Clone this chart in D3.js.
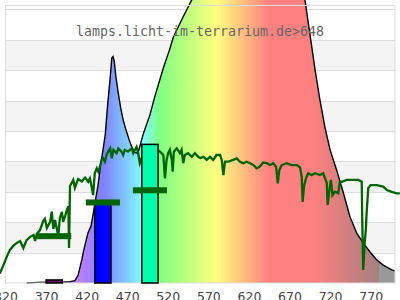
<!DOCTYPE html>
<html>
<head>
<meta charset="utf-8">
<script src="https://cdn.jsdelivr.net/npm/d3@7"></script>
<style>
  body { margin: 0; background: #fff; }
  svg { display: block; }
</style>
</head>
<body>
<svg id="chart"></svg>
<script>
// wavelength ticks (nm)
const waveTicks = [320, 370, 420, 470, 520, 570, 620, 670, 720, 770];

// lamp spectrum [nm, relative value]
const lampSpectrum = [
  [346, 0], [360, 0.02], [375, 0.03], [390, 0.03], [399.5, 0.04], [405.5, 0.08],
  [409.5, 0.26], [414, 0.76], [416, 1.03], [419, 1.36], [421.5, 1.64], [425.5, 1.88],
  [428.5, 2.35], [431, 2.75], [434, 3.2], [437, 3.85], [440, 4.35], [443, 4.9],
  [446, 5.9], [449, 6.75], [451, 7.4], [452.5, 7.45], [454, 7.3], [456, 6.79],
  [459, 6.24], [462, 5.75], [465, 5.36], [468.5, 5.03], [472.5, 4.7], [475.5, 4.48],
  [479.5, 4.3], [481, 4.27], [484, 4.35], [490, 4.92], [498, 5.53], [504, 6.13],
  [514.5, 7.07], [522, 7.66], [527, 8.1], [539, 8.76], [549.5, 9.31], [565, 9.9],
  [585, 10.4], [610, 10.6], [635, 10.5], [660, 10.2], [680, 9.7], [689, 9.31],
  [695, 8.21], [701.5, 7.01], [707.5, 6.02], [713.5, 5.14], [720, 4.38], [728, 3.72],
  [736.5, 2.95], [744.5, 2.18], [753, 1.63], [761, 1.31], [769, 1.03], [777.5, 0.76],
  [785.5, 0.59], [796, 0.43], [800, 0.4]
];

// daylight reference spectrum [nm, relative value]
const sunSpectrum = [
  [313, 0.31], [317, 0.56], [321.5, 0.86], [325.5, 1.09], [329.5, 1.22], [334, 1.32],
  [338, 1.38], [342, 1.15], [346, 1.41], [350, 1.51], [354.5, 1.58], [356.5, 1.38],
  [358.5, 1.61], [362.5, 1.74], [366.5, 2.04], [368.5, 2.11], [371, 1.81], [375, 2.01],
  [377, 2.35], [379, 1.78], [381, 2.07], [385, 1.55], [387, 2.14], [389.5, 2.34],
  [391, 2.01], [393.5, 2.2], [395.5, 2.4], [397.5, 2.53], [398.3, 1.15], [399.5, 3.19],
  [401.5, 3.29], [403.5, 3.39], [405.5, 3.13], [407.5, 3.28], [409.5, 3.42], [414, 3.34],
  [418, 3.47], [422, 3.33], [424, 3.44], [426, 3.19], [428, 2.89], [430, 3.61],
  [432.5, 3.77], [434.5, 3.66], [436.5, 3.85], [438.5, 4.05], [440.5, 4.1], [442.5, 3.99],
  [444.5, 4.21], [446.5, 4.32], [449, 4.43], [451, 4.1], [453, 4.38], [457, 4.27],
  [459, 4.43], [463, 4.32], [465, 4.21], [467, 4.38], [471, 4.32], [475.5, 4.43],
  [477.5, 4.27], [479.5, 4.38], [481.5, 4.48], [483.5, 4.27], [485.5, 3.94], [491.5, 4.38],
  [498, 4.21], [504, 4.31], [507, 4.38], [510.5, 4.32], [514.5, 4.21], [516.5, 3.44],
  [518.5, 4.05], [520.5, 4.27], [522.5, 4.38], [525, 4.05], [526, 3.66], [527.5, 4.32],
  [531, 4.43], [535, 4.27], [537, 4.38], [539, 3.94], [541, 4.21], [545, 4.27],
  [549.5, 4.15], [553.5, 4.27], [557.5, 4.15], [560, 4.11], [564, 4.15], [568, 4.05],
  [572, 4.15], [576, 4.05], [580, 4.21], [584.5, 4.21], [586.5, 4.05], [588.5, 3.55],
  [590.5, 3.99], [594.5, 3.99], [600.5, 4.05], [605, 4.1], [609, 3.99], [613, 3.94],
  [617, 3.99], [621.5, 3.94], [625.5, 3.88], [629.5, 3.77], [633.5, 3.83], [637.5, 3.96],
  [642, 3.94], [646, 3.88], [650, 3.94], [653.5, 3.82], [655.5, 3.28], [657.5, 3.72],
  [660.5, 3.88], [666.5, 3.94], [672.5, 3.88], [679, 3.88], [683, 3.8], [685, 3.5],
  [686.2, 2.67], [687.8, 3.17], [690.3, 3.44], [693, 3.61], [697.3, 3.55], [701.5, 3.61],
  [707.5, 3.55], [711.5, 3.61], [716, 3.28], [717, 2.57], [718.7, 2.95], [721, 3.39],
  [723, 2.89], [726, 3.0], [730, 2.95], [732, 3.33], [734.5, 3.33], [740.5, 3.39],
  [748.5, 3.39], [755, 3.39], [759, 3.33], [759.7, 1.96], [760.9, 0.43], [762.2, 1.19],
  [764, 1.74], [765, 2.29], [767, 3.12], [770, 3.22], [777.5, 3.22], [785.5, 3.17],
  [790, 3.06], [796, 3.0], [802, 2.95], [806, 2.95]
];

// bands: centre wavelength, lamp bar value, daylight mean value
const bandCenters = [380, 440, 498];
const bandLamp = [0.1, 2.62, 4.56];
const bandSun = [1.54, 2.65, 3.05];

const titleText = "lamps.licht-im-terrarium.de>648";

// styles
const bandColors = ["#660066", "#0000ff", "#00ffaa"];
const spectrumStops = [
  [380, "#ff80ff"], [410, "#c080ff"], [440, "#8080ff"], [490, "#80ffff"],
  [510, "#80ff80"], [580, "#ffff80"], [645, "#ff8080"], [700, "#ff8080"],
  [780, "#a68080"], [780, "#999999"], [800, "#999999"]
];
const sunColor = "#006400";

const width = 400;
const height = 300;
const plotLeft = 5.5;
const plotRight = 395;
const plotTop = 5.5;
const plotBottom = 283;
const barWidthNm = 20;
const markerWidthNm = 42;
const markerHeight = 6;

let x = d3.scaleLinear().domain([320, 800]).range([plotLeft, plotRight]);
let y = d3.scaleLinear().domain([0, 9]).range([plotBottom, 9.4]);

let svg = d3.select("#chart").attr("width", width).attr("height", height);

// gradient for the spectrum fill
let grad = svg
  .append("defs")
  .append("linearGradient")
  .attr("id", "spec")
  .attr("gradientUnits", "userSpaceOnUse")
  .attr("x1", x(380))
  .attr("x2", x(800))
  .attr("y1", 0)
  .attr("y2", 0);
grad
  .selectAll("stop")
  .data(spectrumStops)
  .enter()
  .append("stop")
  .attr("offset", d => (x(d[0]) - x(380)) / (x(800) - x(380)))
  .attr("stop-color", d => d[1]);

// stripes
svg
  .append("g")
  .selectAll("rect")
  .data(d3.range(0, 9).filter(i => i % 2 === 1))
  .enter()
  .append("rect")
  .attr("x", plotLeft)
  .attr("width", plotRight - plotLeft)
  .attr("y", d => y(d + 1))
  .attr("height", d => y(d) - y(d + 1))
  .attr("fill", "#f3f3f3");

// grid lines
svg
  .append("g")
  .selectAll("line")
  .data(d3.range(1, 10))
  .enter()
  .append("line")
  .attr("x1", plotLeft)
  .attr("x2", plotRight)
  .attr("y1", d => Math.round(y(d)) + 0.5)
  .attr("y2", d => Math.round(y(d)) + 0.5)
  .attr("stroke", "#dddddd");

// lamp spectrum
svg
  .append("path")
  .datum(lampSpectrum)
  .attr("fill", "url(#spec)")
  .attr(
    "d",
    d3
      .area()
      .x(d => x(d[0]))
      .y0(y(0))
      .y1(d => y(d[1]))
  );
svg
  .append("path")
  .datum(lampSpectrum)
  .attr("fill", "none")
  .attr("stroke", "#000")
  .attr("stroke-width", 1.4)
  .attr(
    "d",
    d3
      .line()
      .x(d => x(d[0]))
      .y(d => y(d[1]))
  );

// frame
svg
  .append("rect")
  .attr("x", plotLeft)
  .attr("y", plotTop)
  .attr("width", plotRight - plotLeft)
  .attr("height", plotBottom - plotTop)
  .attr("fill", "none")
  .attr("stroke", "#dddddd");

// daylight line
svg
  .append("path")
  .datum(sunSpectrum)
  .attr("fill", "none")
  .attr("stroke", sunColor)
  .attr("stroke-width", 2.3)
  .attr(
    "d",
    d3
      .line()
      .x(d => x(d[0]))
      .y(d => y(d[1]))
  );

// band bars
svg
  .append("g")
  .selectAll("rect")
  .data(bandCenters)
  .enter()
  .append("rect")
  .attr("x", d => x(d - barWidthNm / 2))
  .attr("width", d => x(d + barWidthNm / 2) - x(d - barWidthNm / 2))
  .attr("y", (d, i) => y(bandLamp[i]))
  .attr("height", (d, i) => y(0) - y(bandLamp[i]))
  .attr("fill", (d, i) => bandColors[i])
  .attr("stroke", "#000")
  .attr("stroke-width", 1.5);

// daylight band means
svg
  .append("g")
  .selectAll("rect")
  .data(bandCenters)
  .enter()
  .append("rect")
  .attr("x", d => x(d - markerWidthNm / 2))
  .attr("width", d => x(d + markerWidthNm / 2) - x(d - markerWidthNm / 2))
  .attr("y", (d, i) => y(bandSun[i]) - markerHeight / 2)
  .attr("height", markerHeight)
  .attr("fill", sunColor);

// x axis labels
let xAxis = svg
  .append("g")
  .attr("transform", `translate(0,${plotBottom})`)
  .call(
    d3
      .axisBottom(x)
      .tickValues(waveTicks)
      .tickSize(0)
      .tickPadding(9)
      .tickFormat(d3.format("d"))
  );
xAxis.select(".domain").remove();
xAxis
  .selectAll("text")
  .attr("font-family", "DejaVu Sans")
  .attr("font-size", "12.5px")
  .attr("fill", "#444");

// title
svg
  .append("text")
  .text(titleText)
  .attr("x", width / 2)
  .attr("y", 36.3)
  .attr("text-anchor", "middle")
  .attr("font-family", "DejaVu Sans Mono")
  .attr("font-size", "13.3px")
  .attr("fill", "#666");
</script>
</body>
</html>
